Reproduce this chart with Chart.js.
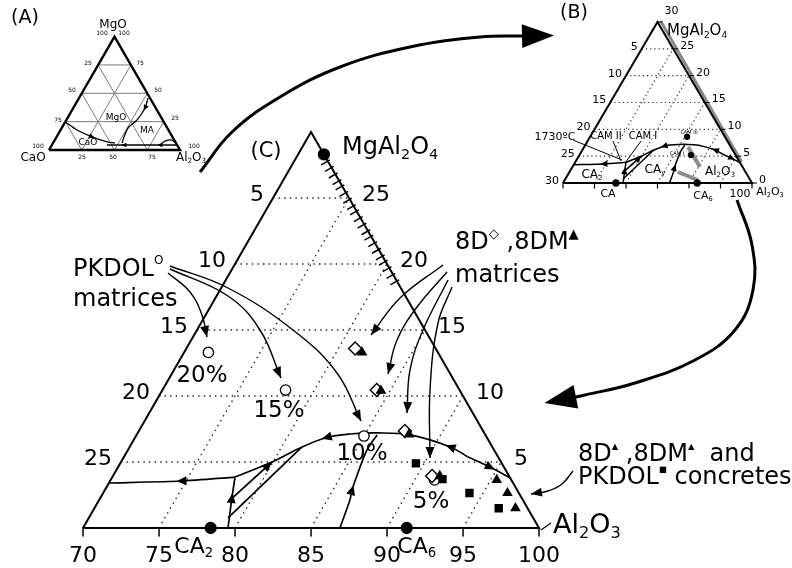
<!DOCTYPE html>
<html><head><meta charset="utf-8">
<script src="https://cdn.jsdelivr.net/npm/chart.js@4.4.1/dist/chart.umd.min.js"></script>
<style>html,body{margin:0;padding:0;background:#fff;}canvas{display:block;}</style>
</head><body>
<canvas id="c" width="792" height="568"></canvas>
<script>
// ================= DATA =================
// Main diagram (C) and inset (B): X = Al2O3 reading on the base (70-100), H = level (0 at base, 30 at apex)
const baseTicks  = [70, 75, 80, 85, 90, 95, 100];
const levelLines = [5, 10, 15, 20, 25];
const baseInner  = [75, 80, 85, 90, 95];

const compoundNames = ['MgAl2O4', 'CA2', 'CA6'];
const compoundX = [71.7, 78.4, 91.3];
const compoundH = [28.3, 0, 0];

const pkdolMatrixX   = [71.6, 78.1, 85.0, 91.3];
const pkdolMatrixH   = [13.3, 10.45, 6.97, 3.64];
const pkdolMatrixPct = ['20%', '15%', '10%', '5%'];

const m8dX  = [81.1, 84.1, 87.5, 91.0];
const m8dH  = [13.6, 10.45, 7.35, 3.94];
const m8dmX = [81.7, 84.4, 87.9, 91.5];
const m8dmH = [13.3, 10.4, 7.1, 3.94];

const concPkdolX = [89.45, 91.8, 94.1, 96.6];
const concPkdolH = [4.9, 3.7, 2.65, 1.5];
const conc8dX    = [95.4, 96.6, 97.7];
const conc8dH    = [3.64, 2.65, 1.5];

const ssHatchH = [27.8, 27.3, 26.8, 26.3, 25.9, 25.4, 24.9, 24.4, 24.0, 23.5,
                  23.0, 22.5, 22.1, 21.6, 21.1, 20.6, 20.2, 19.7, 19.2, 18.7];

// boundary curves [X, H]
const arcLeft  = [[92.6,5.4],[91.1,6.14],[88.0,7.05],[85.74,7.2],[84.0,7.12],[82.6,6.86],[81.34,6.14],[79.93,5.0],[78.07,3.86]];
const arcRight = [[92.6,5.4],[94.5,4.6],[96.2,3.8]];
const ca2Line  = [[78.07,3.86],[74.7,3.56],[70.07,3.41]];
const ca2Vert  = [[79.54,0],[78.66,2.27],[78.07,3.86]];
const camLine1 = [[78.61,2.12],[79.93,5.0]];
const camLine2 = [[79.16,0.76],[81.34,6.14]];
const ca6Line  = [[86.9,0],[86.5,2.12],[86.26,2.88],[86.0,4.17],[85.73,5.91],[85.82,7.05]];

// inset B extras
const bDotsX = [85.4, 87.7];
const bDotsH = [8.6, 5.2];
const bBars  = [[[86.5,6.7],[90.25,3.0]], [[87.2,2.05],[91.1,0.56]]];
const bRightLabels = [30, 25, 20, 15, 10, 5, 0];

// inset A: CaO-MgO-Al2O3, points as [Al2O3, MgO]
const aGrid   = [25, 50, 75];
const aCurve1 = [[0,24.7],[12.6,17.6],[27.1,11.5],[40.8,7.1],[47.3,6.2]];
const aCurve2 = [[52.6,45.9],[54.8,37],[54,26.5],[50.6,19.4],[51.5,11.5],[52.7,6.2]];
const aBase   = [[96.3,4.4],[82.5,4.4],[69,4.4],[55,4.4],[42,4.4]];
const aBump   = [[82.5,4.4],[84.6,7.9],[89.5,8.8],[95,5.3]];

// ================= LAYOUT =================
const FONT = '"DejaVu Sans", "Liberation Sans", sans-serif';
const LC = {L:[83,528], R:[539,528], T:[311,132]};
const LB = {L:[563,183], R:[752,183], T:[657.5,22]};
const LA = {L:[49,150], R:[180,150], T:[114.5,36.6]};
function mapper(Lo, x0, span) {
  return (X, H) => { const u = (X - x0) / span, v = H / span;
    return {x: Lo.L[0] + u*(Lo.R[0]-Lo.L[0]) + v*(Lo.T[0]-Lo.L[0]),
            y: Lo.L[1] + u*(Lo.R[1]-Lo.L[1]) + v*(Lo.T[1]-Lo.L[1])}; };
}
const tC = mapper(LC, 70, 30), tB = mapper(LB, 70, 30), tA = mapper(LA, 0, 100);

const DS = [];
function line(pts, o = {}) {
  DS.push({data: pts, showLine: true, pointRadius: 0, pointHitRadius: 0,
    borderColor: o.c || '#000', backgroundColor: o.c || '#000', borderWidth: o.w ?? 1.6,
    borderDash: o.d || [], borderCapStyle: o.cap || 'butt', borderJoinStyle: o.join || 'round',
    tension: o.t || 0, fill: false, order: o.o ?? 5,
    arrowAt: o.at || [], arrowSize: o.as || 9, endArrow: o.end || null});
}
function marks(pts, o) {
  DS.push({data: pts, showLine: false, pointStyle: o.s, pointRadius: o.r,
    pointBackgroundColor: o.bg, pointBorderColor: '#000', pointBorderWidth: o.bw ?? 1.3,
    order: o.o ?? 1});
}
const cv = (arr, f) => arr.map(p => f(p[0], p[1]));
const zip = (xs, hs, f) => xs.map((x, i) => f(x, hs[i]));

// ---- main diagram C ----
const dotted = {w: 1.4, d: [1.4, 4.2], c: '#222', o: 9};
levelLines.forEach(H => line([tC(70, H), tC(100 - H, H)], dotted));
baseInner.forEach(X => line([tC(X, 0), tC(X, 100 - X)], dotted));
line([tC(70,0), tC(70,30), tC(100,0), tC(70,0)], {w: 2, o: 6, join: 'miter'});
baseTicks.forEach(X => { const p = tC(X, 0); line([p, {x: p.x, y: p.y + 8}], {w: 1.5, o: 6}); });
ssHatchH.forEach(H => { const p = tC(100 - H, H);
  line([{x: p.x + 0.866*2.5, y: p.y - 0.5*2.5}, {x: p.x - 0.866*7.5, y: p.y + 0.5*7.5}], {w: 1.5, o: 6}); });

function liquidus(f, w, as) {
  line(cv(arcLeft, f),  {w, t: 0.35, at: [1, 5], as});
  line(cv(arcRight, f), {w, t: 0.3, at: [1], as});
  line(cv(ca2Line, f),  {w, t: 0.2, at: [1], as});
  line(cv(ca2Vert, f),  {w, t: 0.2, at: [1], as});
  line(cv(camLine1, f), {w, end: {len: as, hw: as*0.45, ext: 0}});
  line(cv(camLine2, f), {w});
  line(cv(ca6Line, f),  {w, t: 0.3, at: [2], as});
}
liquidus(tC, 1.7, 10);

marks(zip(compoundX, compoundH, tC), {s: 'circle', r: 5.5, bg: '#000', o: 0});
marks(zip(pkdolMatrixX, pkdolMatrixH, tC), {s: 'circle', r: 5.2, bg: '#fff', bw: 1.3, o: 3});
marks(zip(m8dX, m8dH, tC), {s: 'rectRot', r: 6.5, bg: '#fff', bw: 1.4, o: 2});
marks(zip(m8dmX, m8dmH, tC), {s: 'triangle', r: 5, bg: '#000', o: 1});
marks(zip(concPkdolX, concPkdolH, tC), {s: 'rect', r: 5, bg: '#000', o: 1});
marks(zip(conc8dX, conc8dH, tC), {s: 'triangle', r: 4.8, bg: '#000', o: 1});

// annotation leaders (layout, pixel units)
const headS = {len: 11, hw: 4.5, ext: 0};
[[[168,273],[190,292],[202,315],[207,337]],
 [[170,269],[228,296],[260,330],[281,378]],
 [[170,266],[228,288],[293,330],[337,373],[361,421]],
 [[443,265],[400,298],[371,335]],
 [[447,272],[417,307],[397,340],[388,374]],
 [[448,280],[423,330],[410,370],[407,413]],
 [[452,287],[438,323],[430,390],[430,458]],
 [[573,471],[562,484],[548,491],[531,494]]
].forEach(p => line(p, {w: 1.4, t: 0.4, end: headS}));
line([[551,523],[541,530]].map(p => ({x: p[0], y: p[1]})), {w: 1.2});
DS.forEach(d => { d.data = d.data.map(p => Array.isArray(p) ? {x: p[0], y: p[1]} : p); });

// big connecting arrows
line([[200,172],[232,132],[280,97],[340,67],[410,47],[480,37],[528,36]].map(p=>({x:p[0],y:p[1]})),
     {w: 3, t: 0.4, end: {len: 32, hw: 12, ext: 26}});
line([[737,200],[752,245],[753,290],[735,330],[695,360],[635,383],[585,395],[570,398]].map(p=>({x:p[0],y:p[1]})),
     {w: 3, t: 0.4, end: {len: 32, hw: 12, ext: 26}});

// ---- inset B ----
const dottedB = {w: 1.2, d: [1.2, 3], c: '#333', o: 9};
levelLines.forEach(H => line([tB(70, H), tB(100 - H, H)], dottedB));
baseInner.forEach(X => line([tB(X, 0), tB(X, 100 - X)], dottedB));
line([tB(70,30+0.3), tB(96,4)].map(p => ({x: p.x + 2.2, y: p.y + 0.5})), {w: 3, c: '#8a8a8a', o: 8});
line([tB(70,0), tB(70,30), tB(100,0), tB(70,0)], {w: 2, o: 6, join: 'miter'});
baseTicks.forEach(X => { const p = tB(X, 0); line([p, {x: p.x, y: p.y + 5}], {w: 1.2, o: 6}); });
bRightLabels.forEach(H => { const p = tB(100 - H, H); line([p, {x: p.x + 5, y: p.y}], {w: 1, o: 6}); });
liquidus(tB, 1.5, 7);
bBars.forEach(b => line(cv(b, tB), {w: 4, c: '#8c8c8c', o: 7}));
marks(zip(bDotsX, bDotsH, tB), {s: 'circle', r: 2.5, bg: '#000', o: 0});
marks([tB(compoundX[1], 0), tB(compoundX[2], 0)], {s: 'circle', r: 3, bg: '#000', o: 0});
line([{x:573,y:140},{x:622,y:160}], {w: 1});
line([{x:613,y:141},{x:621,y:161}], {w: 1});
line([{x:641,y:141},{x:625,y:163}], {w: 1});

// ---- inset A ----
aGrid.forEach(k => {
  line([tA(0, k), tA(100 - k, k)], {w: 1, c: '#7a7a7a', o: 9});
  line([tA(k, 0), tA(k, 100 - k)], {w: 1, c: '#7a7a7a', o: 9});
  line([tA(100 - k, 0), tA(0, 100 - k)], {w: 1, c: '#7a7a7a', o: 9});
});
line([tA(0,0), tA(0,100), tA(100,0), tA(0,0)], {w: 2.4, o: 6, join: 'miter'});
line(cv(aCurve1, tA), {w: 1.3, t: 0.3, at: [2], as: 6});
line(cv(aCurve2, tA), {w: 1.3, t: 0.3, at: [1], as: 6});
line(cv(aBase, tA),   {w: 1.3, at: [1, 3], as: 5});
line(cv(aBump, tA),   {w: 1.3, t: 0.4});

// ---- texts (layout) ----
const TX = [];
const txt = (s, x, y, size, align = 'center', ss = 0.6) => TX.push({s, x, y, size, align, ss});
txt('(C)', 266, 152, 21);
txt('MgAl_2O_4', 342, 148, 24, 'left');
levelLines.forEach(H => {
  const pl = tC(70, H), pr = tC(100 - H, H);
  txt(String(30 - H), pl.x - 9, pl.y - 3, 22, 'right');
  txt(String(H), pr.x + 13, pr.y - 3, 22, 'left');
});
baseTicks.forEach(X => txt(String(X), tC(X, 0).x, 556, 22));
txt('CA_2', tC(compoundX[1], 0).x - 17, 547, 22);
txt('CA_6', tC(compoundX[2], 0).x + 10, 547, 22);
txt('Al_2O_3', 553, 526, 27, 'left');
txt('PKDOL^O', 73, 270, 24, 'left', 0.5);
txt('matrices', 73, 300, 24, 'left');
const pctPos = [[202,376],[279,411],[362,454],[431,502]];
pkdolMatrixPct.forEach((s, i) => txt(s, pctPos[i][0], pctPos[i][1], 23));
txt('8D^◇ ,8DM^▲', 455, 243, 24, 'left', 0.55);
txt('matrices', 455, 276, 24, 'left');
txt('8D^▲ ,8DM^▲  and', 578, 455, 24, 'left', 0.35);
txt('PKDOL^■ concretes', 578, 478, 24, 'left', 0.35);
// B
txt('(B)', 574, 13, 19);
[0].concat(levelLines).forEach(H => { const p = tB(70, H); txt(String(30 - H), p.x - 4, p.y - 2, 11, 'right'); });
bRightLabels.forEach(H => { const p = tB(100 - H, H); txt(String(H), p.x + 7, p.y - (H === 30 ? 11 : 3), 11, 'left'); });
txt('MgAl_2O_4', 667, 31, 15, 'left');
txt('CA', 608, 194, 11); txt('CA_6', 703, 196, 11); txt('100', 740, 194, 11); txt('Al_2O_3', 770, 192, 11);
txt('1730ºC', 555, 137, 11); txt('CAM II', 606, 136, 10); txt('CAM I', 643, 136, 10);
txt('CAM III', 689, 133, 5); txt('CAM I', 677, 154, 5);
txt('CA_2', 592, 175, 12); txt('CA_y', 655, 170, 12); txt('Al_2O_3', 720, 172, 12);
// A
txt('(A)', 25, 18, 19);
txt('MgO', 113, 25, 12); txt('CaO', 33, 158, 12); txt('Al_2O_3', 191, 158, 12);
[['100',102,33],['100',124,33],['25',88,63],['75',140,63],['50',72,90],['50',158,90],['75',58,120],
 ['25',175,118],['100',38,146],['100',194,146],['25',82,157],['50',113,157],['75',152,157]]
 .forEach(a => txt(a[0], a[1], a[2], 6));
txt('MgO', 116, 118, 9); txt('CaO', 88, 143, 9); txt('MA', 147, 131, 9);

// ================= PLUGINS =================
function head(ctx, tip, d, len, hw) {
  const nx = -d.y, ny = d.x;
  ctx.beginPath();
  ctx.moveTo(tip.x, tip.y);
  ctx.lineTo(tip.x - d.x*len + nx*hw, tip.y - d.y*len + ny*hw);
  ctx.lineTo(tip.x - d.x*len - nx*hw, tip.y - d.y*len - ny*hw);
  ctx.closePath(); ctx.fill();
}
const unit = (a, b) => { const dx = b.x - a.x, dy = b.y - a.y, l = Math.hypot(dx, dy) || 1; return {x: dx/l, y: dy/l}; };
const arrowPlugin = { id: 'arrows', afterDatasetsDraw(chart) {
  const ctx = chart.ctx; ctx.save(); ctx.fillStyle = '#000';
  chart.data.datasets.forEach((ds, i) => {
    const pts = chart.getDatasetMeta(i).data.map(e => ({x: e.x, y: e.y}));
    (ds.arrowAt || []).forEach(k => {
      const d = unit(pts[k-1], pts[k+1]), L = ds.arrowSize;
      head(ctx, {x: pts[k].x + d.x*L/2, y: pts[k].y + d.y*L/2}, d, L, L*0.45);
    });
    if (ds.endArrow) {
      const n = pts.length, d = unit(pts[n-2], pts[n-1]), e = ds.endArrow;
      head(ctx, {x: pts[n-1].x + d.x*e.ext, y: pts[n-1].y + d.y*e.ext}, d, e.len, e.hw);
    }
  });
  ctx.restore();
}};
function parse(s) {
  const parts = []; const ch = [...s];
  for (let i = 0; i < ch.length; i++) {
    if ((ch[i] === '_' || ch[i] === '^') && i + 1 < ch.length) { parts.push({t: ch[i+1], k: ch[i]}); i++; }
    else if (parts.length && !parts[parts.length-1].k) parts[parts.length-1].t += ch[i];
    else parts.push({t: ch[i], k: null});
  }
  return parts;
}
const textPlugin = { id: 'texts', afterDraw(chart) {
  const ctx = chart.ctx, sx = chart.scales.x, sy = chart.scales.y;
  ctx.save(); ctx.fillStyle = '#000'; ctx.textBaseline = 'middle'; ctx.textAlign = 'left';
  TX.forEach(it => {
    const parts = parse(it.s);
    const m = parts.map(p => { const fs = p.k ? it.size*it.ss : it.size; ctx.font = fs + 'px ' + FONT; return {fs, w: ctx.measureText(p.t).width}; });
    const tot = m.reduce((a, b) => a + b.w, 0);
    let x = sx.getPixelForValue(it.x); const y = sy.getPixelForValue(it.y);
    if (it.align === 'center') x -= tot/2; else if (it.align === 'right') x -= tot;
    parts.forEach((p, i) => {
      ctx.font = m[i].fs + 'px ' + FONT;
      const dy = p.k === '_' ? it.size*0.3 : p.k === '^' ? -it.size*0.36 : 0;
      ctx.fillText(p.t, x, y + dy); x += m[i].w;
    });
  });
  ctx.restore();
}};

new Chart(document.getElementById('c'), {
  type: 'scatter',
  data: {datasets: DS},
  options: {
    responsive: false, animation: false, devicePixelRatio: 1, events: [],
    layout: {padding: 0, autoPadding: false},
    plugins: {legend: {display: false}, tooltip: {enabled: false}, title: {display: false}},
    scales: {
      x: {type: 'linear', min: 0, max: 792, display: false},
      y: {type: 'linear', min: 0, max: 568, reverse: true, display: false}
    }
  },
  plugins: [arrowPlugin, textPlugin]
});
</script>
</body></html>
